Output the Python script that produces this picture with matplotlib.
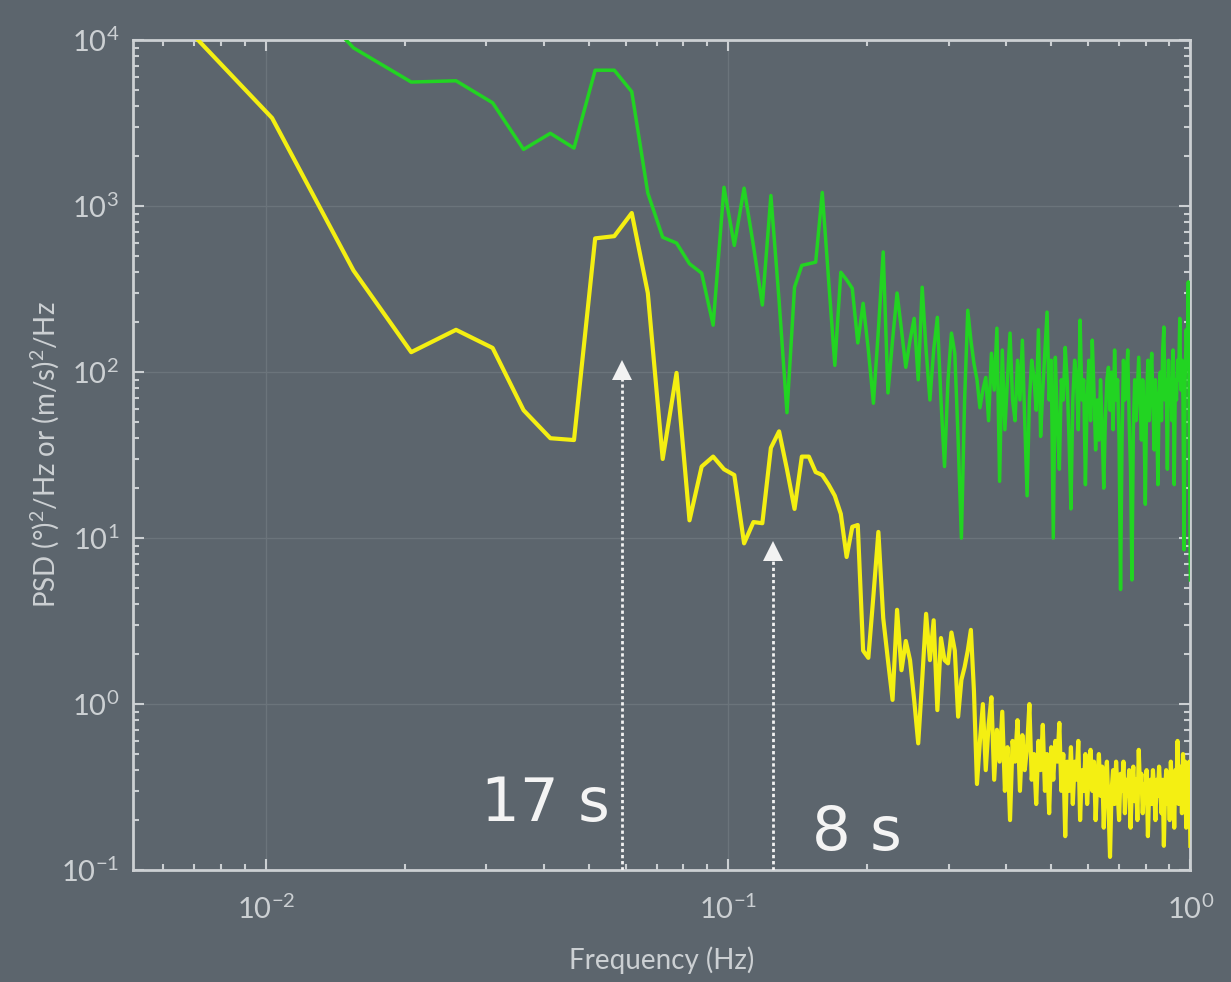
import numpy as np
import matplotlib
matplotlib.use('Agg')
import matplotlib.pyplot as plt

# spectral values, one per frequency bin (k = 1..194)
freq_step = 1.0 / 194.0
n_bins = 194

psd_green = [
    60000, 30000, 9000, 5600, 5700, 4200, 2200, 2750, 2240, 6600,
    6600, 4900, 1200, 650, 600, 450, 395, 192, 1300, 580,
    1285, 580, 254, 1160, 270, 57, 325, 440, 450, 460,
    1210, 360, 110, 400, 360, 320, 150, 260, 136, 65,
    180, 530, 75, 156, 300, 180, 107, 156, 211, 90,
    325, 136, 68, 136, 214, 68, 27, 90, 172, 130,
    39, 10, 68, 236, 156, 113, 90, 61, 78, 93,
    51, 130, 78, 184, 22, 136, 45, 90, 172, 68,
    51, 118, 68, 156, 51, 18, 68, 118, 93, 59,
    180, 41, 78, 136, 230, 68, 118, 10, 123, 51,
    26, 90, 68, 141, 90, 39, 15, 68, 118, 93,
    45, 206, 68, 90, 21, 68, 118, 51, 156, 78,
    34, 68, 39, 90, 45, 20, 51, 90, 107, 59,
    100, 45, 136, 68, 90, 39, 4.9, 39, 118, 68,
    90, 136, 51, 26, 5.6, 45, 90, 51, 78, 123,
    68, 39, 90, 51, 16, 68, 118, 51, 90, 130,
    68, 34, 90, 59, 21, 68, 100, 51, 136, 187,
    68, 90, 26, 118, 68, 90, 51, 136, 21, 90,
    68, 118, 90, 211, 78, 118, 68, 8.5, 90, 180,
    118, 350, 37, 5.6,
]

psd_yellow = [
    26000, 3400, 410, 132, 180, 140, 59, 40, 39, 640,
    660, 910, 300, 30, 99, 12.8, 27, 31, 26, 24,
    9.3, 12.5, 12.3, 35, 44, 26, 15, 31, 31, 25,
    24, 21, 18, 14, 7.7, 11.7, 12, 2.1, 1.9, 4.5,
    10.9, 3.3, 1.84, 1.06, 3.7, 1.6, 2.4, 1.84, 1.06, 0.58,
    1.4, 3.5, 1.84, 3.2, 0.92, 2.5, 1.84, 1.76, 2.7, 2.1,
    0.84, 1.4, 1.67, 2.1, 2.8, 1.2, 0.33, 0.6, 1.0, 0.4,
    0.75, 1.1, 0.35, 0.7, 0.45, 0.9, 0.3, 0.55, 0.2, 0.6,
    0.45, 0.8, 0.3, 0.65, 0.4, 0.55, 1.0, 0.35, 0.5, 0.25,
    0.6, 0.4, 0.75, 0.3, 0.5, 0.22, 0.55, 0.35, 0.6, 0.45,
    0.77, 0.3, 0.5, 0.16, 0.45, 0.3, 0.55, 0.25, 0.45, 0.35,
    0.6, 0.2, 0.4, 0.3, 0.5, 0.25, 0.4, 0.53, 0.3, 0.45,
    0.2, 0.35, 0.5, 0.28, 0.42, 0.18, 0.35, 0.45, 0.25, 0.12,
    0.3, 0.4, 0.25, 0.45, 0.3, 0.2, 0.38, 0.3, 0.45, 0.22,
    0.35, 0.28, 0.4, 0.18, 0.32, 0.42, 0.26, 0.35, 0.2, 0.53,
    0.3, 0.38, 0.22, 0.33, 0.28, 0.4, 0.16, 0.3, 0.35, 0.25,
    0.4, 0.3, 0.2, 0.35, 0.28, 0.42, 0.3, 0.22, 0.35, 0.14,
    0.3, 0.4, 0.25, 0.35, 0.2, 0.45, 0.3, 0.38, 0.18, 0.4,
    0.3, 0.6, 0.25, 0.35, 0.42, 0.22, 0.5, 0.3, 0.45, 0.18,
    0.4, 0.35, 0.45, 0.14,
]

# annotated periods (s) and where the arrow heads stop
periods = [17, 8]
arrow_tips = [103, 8.4]
period_labels = ['17 s', '8 s']
label_y = [0.25, 0.165]

freqs = freq_step * np.arange(1, n_bins + 1)

BG = '#5c656d'
FG = '#ccd0d3'

plt.rcParams['font.family'] = ['Lato', 'DejaVu Sans']
plt.rcParams['mathtext.fontset'] = 'custom'
plt.rcParams['mathtext.rm'] = 'Lato'
plt.rcParams['mathtext.it'] = 'Lato:italic'
plt.rcParams['mathtext.bf'] = 'Lato:bold'

fig = plt.figure(figsize=(12.31, 9.82), dpi=100, facecolor=BG)
ax = fig.add_axes([0.108, 0.114, 0.859, 0.845])
ax.set_facecolor(BG)
ax.set_axisbelow(True)

ax.plot(freqs, psd_green, color='#22d422', lw=2.5, zorder=3)
ax.plot(freqs, psd_yellow, color='#f4ef12', lw=3, zorder=4)

ax.set_xscale('log')
ax.set_yscale('log')
ax.set_xlim(freq_step, 1)
ax.set_ylim(0.1, 1e4)

ax.grid(True, which='major', color='#6b747b', lw=1)
for s in ax.spines.values():
    s.set_color(FG)
    s.set_linewidth(2)

ax.tick_params(which='both', direction='in', top=True, right=True,
               colors=FG, labelcolor=FG, width=1.5)
ax.tick_params(which='major', length=8, labelsize=21)
ax.tick_params(which='minor', length=4)
ax.tick_params(axis='x', pad=18)
ax.tick_params(axis='y', pad=10)

ax.set_xlabel('Frequency (Hz)', fontsize=20, color=FG, labelpad=16)
ax.set_ylabel(r'PSD (°)$^2$/Hz or (m/s)$^2$/Hz', fontsize=20, color=FG, labelpad=0)

# period arrows
for p, tip in zip(periods, arrow_tips):
    f = 1.0 / p
    ax.plot([f, f], [0.1, tip], ls=(0, (1.2, 1.0)), lw=2, color='#f2f2f2', zorder=5)
    ax.plot([f], [tip], marker='^', ms=15, color='#f2f2f2', mew=0, zorder=5)

ax.text(0.0556, label_y[0], period_labels[0], ha='right', va='center',
        fontsize=44, color='#f4f4f4', family='DejaVu Sans', zorder=6)
ax.text(0.152, label_y[1], period_labels[1], ha='left', va='center',
        fontsize=44, color='#f4f4f4', family='DejaVu Sans', zorder=6)

fig.savefig('out.png', dpi=100, facecolor=BG)
